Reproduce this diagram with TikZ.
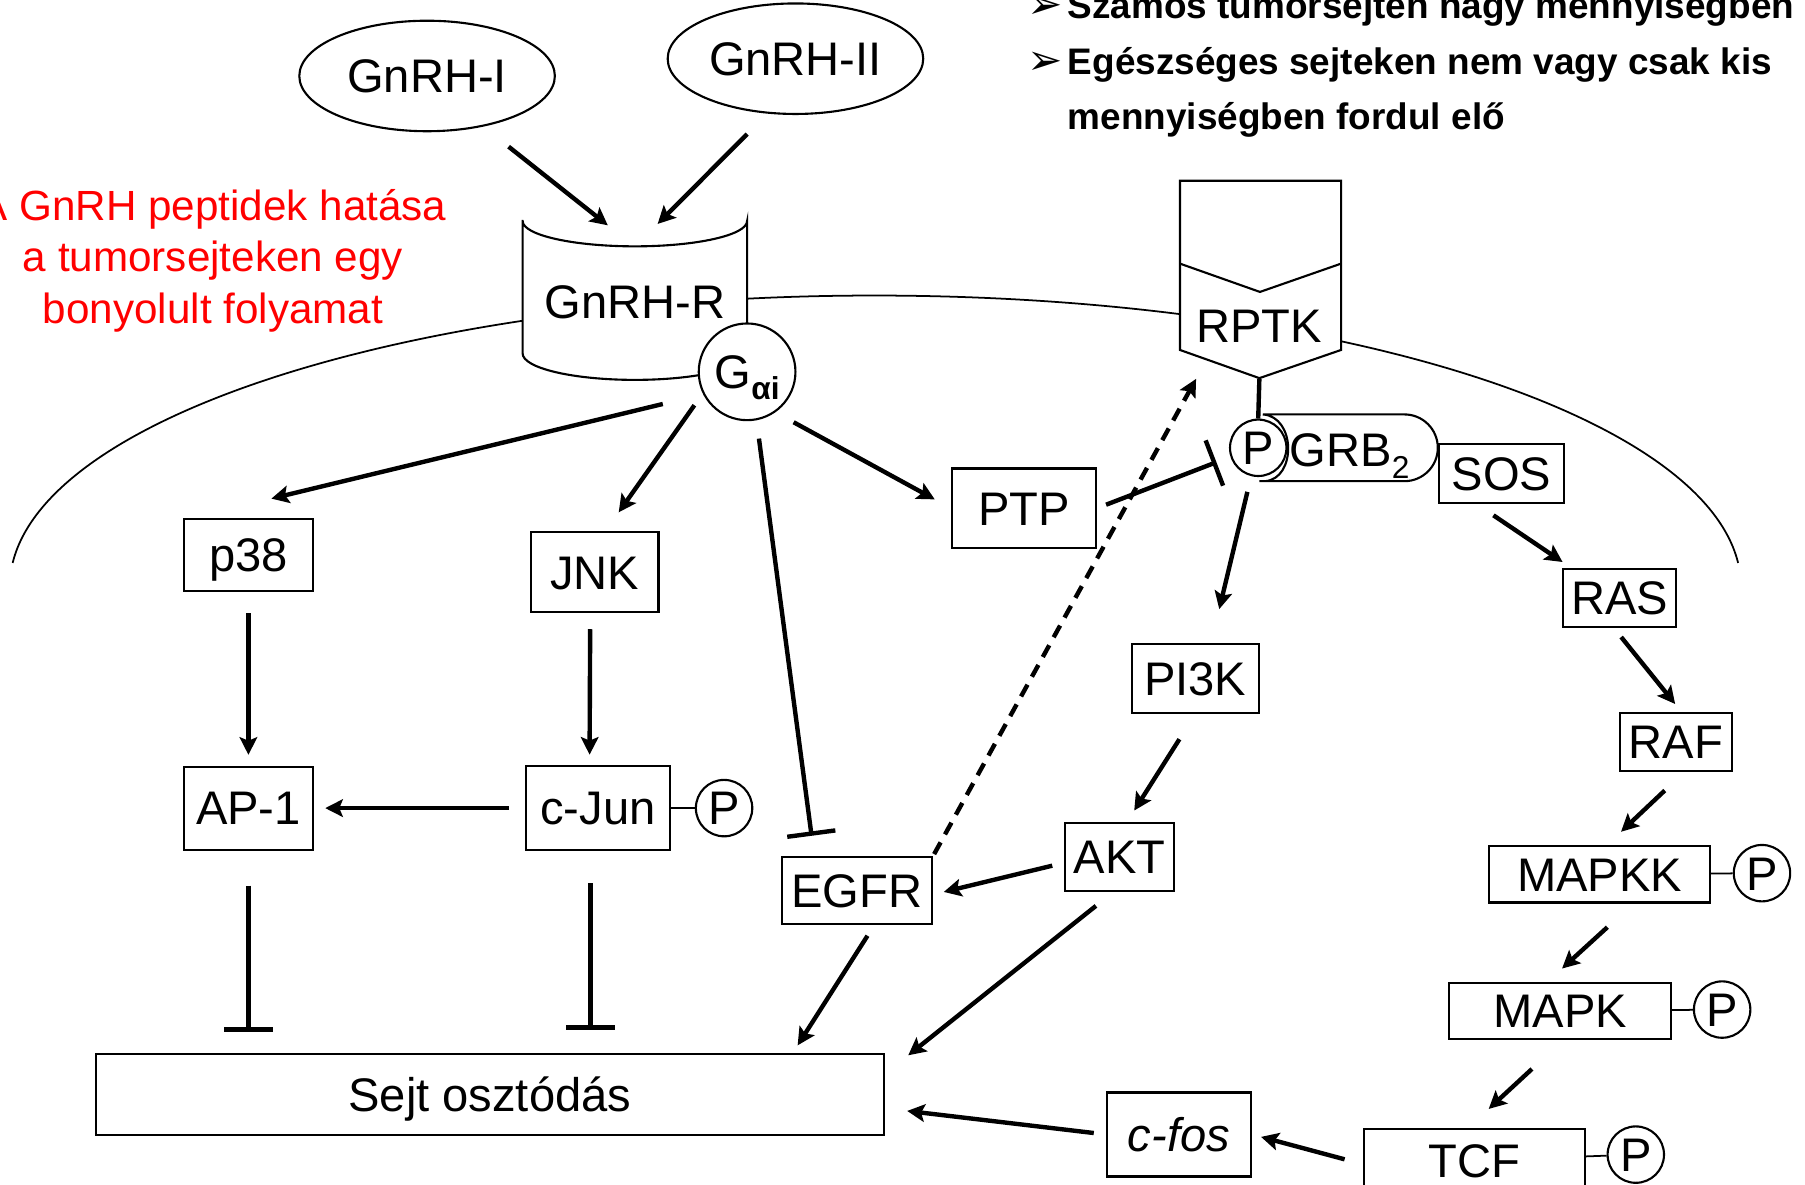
\documentclass[tikz,border=0pt]{standalone}
\usepackage{fontspec}
\setmainfont{Liberation Sans}
\newfontfamily\dingfont{DejaVu Sans}
\usetikzlibrary{arrows.meta,shapes.geometric}
\newlength{\upx}
\setlength{\upx}{0.011512cm}
\tikzset{
  box/.style 2 args={draw, line width=0.6pt, fill=white, inner sep=0pt, text height=9.6pt, text depth=0pt, minimum width=#1\upx, minimum height=#2\upx},
  ligand/.style={draw, ellipse, line width=0.6pt, inner sep=0pt, text height=9.6pt, text depth=0pt, minimum width=222\upx, minimum height=96\upx},
  phos/.style={draw, circle, line width=0.6pt, fill=white, inner sep=0pt, text height=9.6pt, text depth=0pt, minimum size=49\upx},
  arr/.style={line width=1.25pt, -{Stealth[length=5pt, width=5pt, inset=1pt]}},
  inh/.style={line width=1.25pt, -{Bar[width=13.8pt]}},
  gaps/.style 2 args={shorten <=#1\upx, shorten >=#2\upx},
  link/.style={line width=0.5pt},
  note/.style={inner sep=0pt, anchor=base west, font=\bfseries\fontsize{10.5}{12}\selectfont},
}
\begin{document}
\begin{tikzpicture}[x=0.011512cm, y=-0.011512cm, every node/.append style={font=\fontsize{13.4}{16}\selectfont}]
	\useasboundingbox (0,0) rectangle (1568,1029);
	\clip (0,0) rectangle (1568,1029);
	\draw [line width=0.5pt] (11,489) arc[start angle=-175.3, end angle=-4.7, x radius=752, y radius=253];
	\node [note] (note1) at (892,16.5) {\makebox[35\upx][l]{\dingfont\fontsize{12}{12}\selectfont ➢}Számos tumorsejten nagy mennyiségben};
	\node [note] (note2) at (892,64.5) {\makebox[35\upx][l]{\dingfont\fontsize{12}{12}\selectfont ➢}Egészséges sejteken nem vagy csak kis};
	\node [note] (note3) at (927,112.5) {mennyiségben fordul elő};
	\node [text=red, align=center, font=\fontsize{12}{14.6}\selectfont] (title) at (185,226.5) {A GnRH peptidek hatása\\a tumorsejteken egy\\bonyolult folyamat};
	\node [ligand] (gnrh1) at (371,66) {GnRH-I};
	\node [ligand] (gnrh2) at (691,51) {GnRH-II};
	\draw [line width=0.6pt, fill=white] (454,192) -- (454,307) arc[start angle=180, end angle=0, x radius=97.5, y radius=23] -- (649,192) arc[start angle=0, end angle=180, x radius=97.5, y radius=22] -- cycle;
	\node [inner sep=0pt, text height=9.6pt, text depth=0pt, minimum height=94\upx] (gnrhr) at (551.5,262) {GnRH-R};
	\node [draw, circle, line width=0.6pt, fill=white, inner sep=0pt, text height=9.6pt, text depth=0pt, minimum size=84\upx] (gai) at (649,323) {G\smash{\raisebox{-3.2pt}{\bfseries\fontsize{9}{9}\selectfont αi}}};
	\draw [line width=0.6pt, fill=white] (1025,157) -- (1165,157) -- (1165,304) -- (1094,328.5) -- (1025,304) -- cycle;
	\draw [line width=0.6pt] (1025,229) -- (1094.5,253.6) -- (1165,229);
	\node [inner sep=0pt, text height=9.6pt, text depth=0pt, minimum width=140\upx, minimum height=91\upx] (rptk) at (1094,283) {RPTK};
	\draw [line width=0.6pt, fill=white] (1094,418) -- (1220,418) arc[start angle=90, end angle=-90, radius=29] -- (1097,360) .. controls (1126,362) and (1126,416) .. (1099,418);
	\node [phos] (pgrb) at (1093,389) {P};
	\node [inner sep=0pt, text height=9.6pt, text depth=0pt] (grb2) at (1172.5,391) {GRB\smash{\raisebox{-3.3pt}{\fontsize{9}{9}\selectfont 2}}};
	\node [box={108.6}{51}] (sos) at (1304.3,411.5) {SOS};
	\node [box={125}{69}] (ptp) at (889.5,441.5) {PTP};
	\node [box={111.6}{63}] (p38) at (215.8,482) {p38};
	\node [box={111}{70}] (jnk) at (516.5,497) {JNK};
	\node [box={111.6}{72}] (ap1) at (215.8,702) {AP-1};
	\node [box={125.3}{73}] (cjun) at (519.4,702) {c-Jun};
	\node [phos] (pcjun) at (629,702) {P};
	\node [box={130.6}{58}] (egfr) at (744.3,773.6) {EGFR};
	\node [box={110.6}{60}] (pi3k) at (1038.3,589.5) {PI3K};
	\node [box={95}{59}] (akt) at (972.5,744.5) {AKT};
	\node [box={97.8}{51}] (ras) at (1406.9,519.5) {RAS};
	\node [box={97.6}{51}] (raf) at (1455.8,644.5) {RAF};
	\node [box={192}{49}] (mapkk) at (1389.6,759.5) {MAPKK};
	\node [phos] (pmapkk) at (1530.6,758.5) {P};
	\node [box={192.5}{48.6}] (mapk) at (1355.3,878.3) {MAPK};
	\node [phos] (pmapk) at (1496,877) {P};
	\node [box={192}{54}] (tcf) at (1281,1008) {TCF};
	\node [phos] (ptcf) at (1421,1003) {P};
	\node [box={125}{73}] (cfos) at (1024.2,985.5) {\textit{c-fos}};
	\node [box={684.7}{70.4}] (sejt) at (425.5,950.8) {Sejt osztódás};
	\draw [link] (cjun) -- (pcjun);
	\draw [link] (mapkk) -- (pmapkk);
	\draw [link] (mapk) -- (pmapk);
	\draw [link] (tcf) -- (ptcf);
	\draw [arr, gaps={28}{30}] (gnrh1.318) -- (gnrhr.north);
	\draw [arr, gaps={25}{28}] (gnrh2.243) -- (gnrhr.north);
	\draw [arr, gaps={36}{70}] (gai.207) -- (p38.146);
	\draw [arr, gaps={12.5}{19.6}] (gai.206) -- (jnk.75);
	\draw [inh, gaps={16}{17.8}] (gai.281) -- (egfr.141);
	\draw [arr, gaps={18}{16}] (gai.305) -- (ptp.west);
	\draw [line width=1.25pt] (rptk.south) -- (pgrb.north);
	\draw [inh, gaps={8.5}{13}] (ptp.east) -- (pgrb.198);
	\draw [arr, dash pattern=on 3.8pt off 2.6pt, gaps={2}{0}] (egfr.north east) -- (rptk.220);
	\draw [arr, gaps={14}{30.3}] (pgrb.256) -- (pi3k.66);
	\draw [arr, gaps={17.4}{8.7}] (sos.231) -- (ras.148);
	\draw [arr, gaps={9.6}{8.4}] (ras.260) -- (raf.80);
	\draw [arr, gaps={23}{16.8}] (raf.285) -- (mapkk.76);
	\draw [arr, gaps={30.5}{17.4}] (mapkk.319) -- (mapk.114);
	\draw [arr, gaps={37}{24.7}] (mapk.276) -- (tcf.102);
	\draw [arr, gaps={16.6}{8.1}] (tcf.182) -- (cfos.east);
	\draw [arr, gaps={10.7}{19.4}] (cfos.west) -- (sejt.358);
	\draw [arr, gaps={11.1}{7.8}] (egfr.297) -- ([shift={(263.2,0)}]sejt.north);
	\draw [arr, gaps={10.3}{9.6}] (akt.186) -- (egfr.357);
	\draw [arr, gaps={25.7}{11.8}] (pi3k.south) -- (akt.78);
	\draw [arr, gaps={19.3}{25.8}] (akt.260) -- (sejt.3);
	\draw [arr, gaps={18.5}{9.4}] (p38.south) -- (ap1.north);
	\draw [arr, gaps={13.7}{9}] (jnk.264) -- (cjun.101);
	\draw [arr, gaps={13.7}{10}] (cjun.west) -- (ap1.east);
	\draw [inh, gaps={30.4}{18.6}] (ap1.south) -- (ap1.south |- sejt.north);
	\draw [inh, gaps={28}{20.3}] (cjun.260) -- (cjun.260 |- sejt.north);
\end{tikzpicture}
\end{document}
